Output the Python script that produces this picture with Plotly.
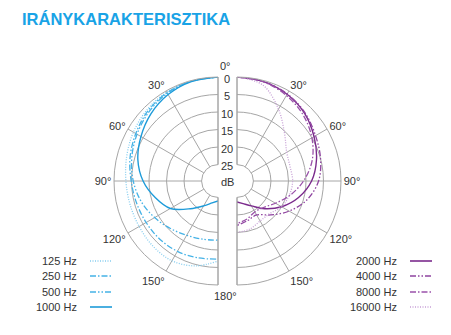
import plotly.graph_objects as go

# ---------------- data ----------------
angles = [0, 15, 30, 45, 60, 75, 90, 105, 120, 135, 150, 165, 180]

low_labels = ["125 Hz", "250 Hz", "500 Hz", "1000 Hz"]
high_labels = ["2000 Hz", "4000 Hz", "8000 Hz", "16000 Hz"]

# attenuation in dB (0 = outer ring)
att_125 = [0, 0.1, 0.4, 1.0, 1.8, 2.7, 3.4, 3.7, 3.7, 3.4, 3.4, 4.6, 6.8]
att_250 = [0, 0.2, 0.6, 1.4, 2.6, 3.7, 4.9, 5.6, 6.0, 6.2, 6.5, 7.0, 7.4]
att_500 = [0, 0.2, 0.8, 1.8, 3.0, 4.2, 5.5, 7.0, 8.8, 10.5, 11.8, 12.5, 12.8]
att_1000 = [0, 0.3, 1.2, 2.6, 4.3, 6.0, 8.3, 11.2, 14.0, 18.5, 21.5, 23.2, 24.0]

att_2000 = [0, 0.3, 1.1, 2.4, 4.3, 6.2, 8.4, 11.5, 15.0, 18.5, 21.5, 23.0, 23.7]
att_4000 = [0, 0.3, 1.0, 2.2, 3.8, 5.0, 6.4, 9.0, 12.5, 16.0, 18.5, 18.0, 17.0]
att_8000 = [0, 0.4, 1.5, 3.0, 5.0, 7.5, 10.7, 14.0, 17.0, 19.0, 19.5, 18.5, 17.5]
att_16000 = [0, 1.3, 6.0, 10.5, 13.3, 14.0, 13.8, 14.2, 15.0, 16.5, 16.5, 15.5, 15.0]

ring_values = [0, 5, 10, 15, 20, 25]
angle_ticks = [0, 30, 60, 90, 120, 150, 180]
angle_text = ["", "30°", "60°", "90°", "120°", "150°", ""]

# ---------------- styling ----------------
W, H = 451, 335
FONT = "Liberation Sans"
GRID = "#a6a6a6"
TXT = "#333333"

low_styles = [
    dict(color="#86cdef", dash="1px,1.5px", width=1.3),
    dict(color="#45b2e6", dash="6px,2px,1.5px,2px", width=1.3),
    dict(color="#45b2e6", dash="6px,2px,1.5px,2px,1.5px,2px", width=1.3),
    dict(color="#1e9bd9", dash="solid", width=1.4),
]
high_styles = [
    dict(color="#7a2a8c", dash="solid", width=1.4),
    dict(color="#8f44a0", dash="6px,2px,1.5px,2px,1.5px,2px", width=1.3),
    dict(color="#9a52aa", dash="6px,2px,1.5px,2px", width=1.3),
    dict(color="#c7a0d6", dash="1px,1.5px", width=1.3),
]

# geometry (pixels)
TOP, BOT = 77, 285
LX0, LX1 = 114, 218
RX0, RX1 = 237, 341
HOLE = 0.158
RMAX = 25

def px(x):
    return x / W

def py(y):
    return 1 - y / H

fig = go.Figure()

low_data = [att_125, att_250, att_500, att_1000]
high_data = [att_2000, att_4000, att_8000, att_16000]

for lab, att, st in zip(low_labels, low_data, low_styles):
    fig.add_trace(go.Scatterpolar(
        r=[max(RMAX - a, 0) for a in att], theta=angles, mode="lines",
        line=dict(shape="spline", smoothing=1.0, **st), name=lab,
        subplot="polar", showlegend=False, hoverinfo="skip"))

for lab, att, st in zip(high_labels, high_data, high_styles):
    fig.add_trace(go.Scatterpolar(
        r=[max(RMAX - a, 0) for a in att], theta=angles, mode="lines",
        line=dict(shape="spline", smoothing=1.0, **st), name=lab,
        subplot="polar2", showlegend=False, hoverinfo="skip"))

def polar_layout(xdom, sector, direction):
    return dict(
        domain=dict(x=[px(xdom[0]), px(xdom[1])], y=[py(BOT), py(TOP)]),
        sector=sector,
        hole=HOLE,
        bgcolor="white",
        radialaxis=dict(range=[0, RMAX], tickvals=[RMAX - v for v in ring_values],
                        showticklabels=False, ticks="", showline=False,
                        gridcolor=GRID, gridwidth=1),
        angularaxis=dict(rotation=90, direction=direction,
                         tickvals=angle_ticks, ticktext=angle_text,
                         ticks="", showline=True, linecolor=GRID, linewidth=1,
                         gridcolor=GRID, gridwidth=1,
                         tickfont=dict(family=FONT, size=11, color=TXT)),
    )

fig.update_layout(
    width=W, height=H,
    margin=dict(l=0, r=0, t=0, b=0),
    paper_bgcolor="white", plot_bgcolor="white",
    showlegend=False,
    polar=polar_layout((LX0, LX1), [90, 270], "counterclockwise"),
    polar2=polar_layout((RX0, RX1), [-90, 90], "clockwise"),
)

ann = []
# title
ann.append(dict(x=px(20), y=py(19), xref="paper", yref="paper", xanchor="left",
                yanchor="middle", showarrow=False, text="<b>IRÁNYKARAKTERISZTIKA</b>",
                font=dict(family=FONT, size=16.5, color="#19a3e6")))

cy = (TOP + BOT) / 2
R = (BOT - TOP) / 2
midx = (LX1 + RX0) / 2
for v in ring_values:
    rr = R * (HOLE + (1 - HOLE) * (RMAX - v) / RMAX)
    ann.append(dict(x=px(midx), y=py(cy - rr + 1.5), xref="paper", yref="paper",
                    showarrow=False, text=str(v), xanchor="center", yanchor="middle",
                    font=dict(family=FONT, size=11, color=TXT)))
ann.append(dict(x=px(midx), y=py(cy + 1), xref="paper", yref="paper", showarrow=False,
                text="dB", xanchor="center", yanchor="middle",
                font=dict(family=FONT, size=11, color=TXT)))
ann.append(dict(x=px(midx - 2), y=py(TOP - 11), xref="paper", yref="paper", showarrow=False,
                text="0°", xanchor="center", yanchor="middle",
                font=dict(family=FONT, size=11, color=TXT)))
ann.append(dict(x=px(midx - 2), y=py(BOT + 11), xref="paper", yref="paper", showarrow=False,
                text="180°", xanchor="center", yanchor="middle",
                font=dict(family=FONT, size=11, color=TXT)))

# legends
leg_y = [261, 276, 292, 307]
shapes = []
for i, (lab, st) in enumerate(zip(low_labels, low_styles)):
    ann.append(dict(x=px(79), y=py(leg_y[i]), xref="paper", yref="paper", showarrow=False,
                    text=lab, xanchor="right", yanchor="middle",
                    font=dict(family=FONT, size=11, color=TXT)))
    shapes.append(dict(type="line", xref="paper", yref="paper",
                       x0=px(90), x1=px(112), y0=py(leg_y[i]), y1=py(leg_y[i]),
                       line=dict(color=st["color"], dash=st["dash"], width=1.6)))
for i, (lab, st) in enumerate(zip(high_labels, high_styles)):
    ann.append(dict(x=px(399), y=py(leg_y[i]), xref="paper", yref="paper", showarrow=False,
                    text=lab, xanchor="right", yanchor="middle",
                    font=dict(family=FONT, size=11, color=TXT)))
    shapes.append(dict(type="line", xref="paper", yref="paper",
                       x0=px(410), x1=px(432), y0=py(leg_y[i]), y1=py(leg_y[i]),
                       line=dict(color=st["color"], dash=st["dash"], width=1.6)))

fig.update_layout(annotations=ann, shapes=shapes)
fig.write_html("out.html")
